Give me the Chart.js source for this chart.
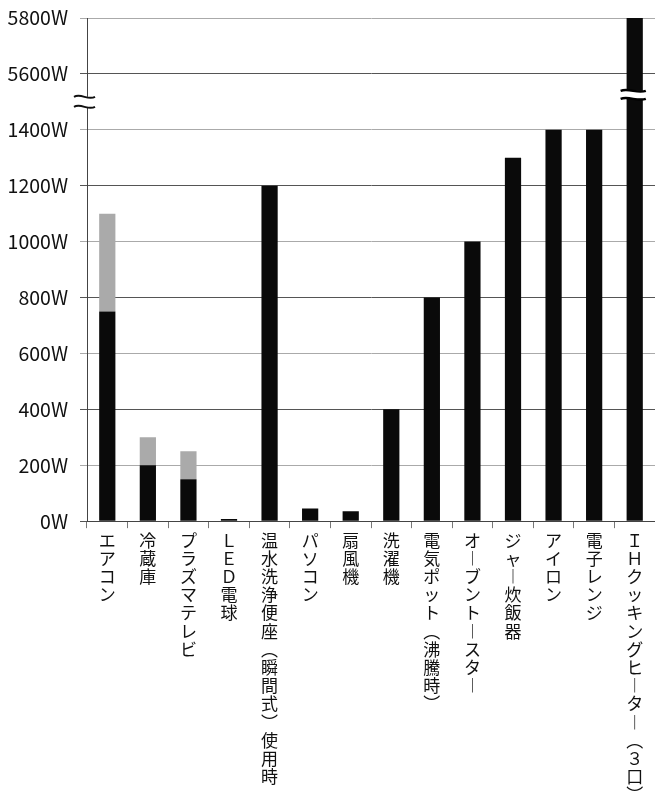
<!DOCTYPE html>
<html>
<head>
<meta charset="utf-8">
<script src="https://cdn.jsdelivr.net/npm/chart.js@4.4.0/dist/chart.umd.min.js"></script>
<style>
  html, body { margin: 0; padding: 0; background: #fff; }
  #wrap { width: 655px; height: 794px; }
</style>
</head>
<body>
<div id="wrap"><canvas id="chart"></canvas></div>
<script>
const appliances = ["エアコン", "冷蔵庫", "プラズマテレビ", "ＬＥＤ電球", "温水洗浄便座(瞬間式)使用時", "パソコン", "扇風機", "洗濯機", "電気ポット(沸騰時)", "オーブントースター", "ジャー炊飯器", "アイロン", "電子レンジ", "ＩＨクッキングヒーター(３口)"];
const baseWatts = [750, 200, 150, 8, 1200, 45, 35, 400, 800, 1000, 1300, 1400, 1400, 5800];
const extraWatts = [350, 100, 100, 0, 0, 0, 0, 0, 0, 0, 0, 0, 0, 0];

// axis is cut between these two values
const breakFrom = 1500;
const breakTo = 5500;
const gap = breakTo - breakFrom;

const toAxis = v => v <= breakFrom ? v : v - gap;
const fromAxis = v => v <= breakFrom ? v : v + gap;

// vertical writing: one character per line
const verticalForms = { "ー": "︱", "(": "︵", ")": "︶" };
const verticalLabel = s => Array.from(s).map(c => verticalForms[c] || c);

function wave(ctx, x1, x2, y, amp) {
    const w = x2 - x1;
    ctx.beginPath();
    ctx.moveTo(x1, y);
    ctx.bezierCurveTo(x1 + w / 3, y - amp, x1 + 2 * w / 3, y + amp, x2, y);
    ctx.stroke();
}

const breakMarks = {
    id: "breakMarks",
    afterDraw(chart) {
        const ctx = chart.ctx;
        const y = chart.scales.y;
        const axisX = chart.chartArea.left;
        ctx.save();

        // break on the y axis
        const ay = y.getPixelForValue(breakFrom);
        ctx.fillStyle = "#fff";
        ctx.fillRect(axisX - 3, ay - 5, 6, 10);
        ctx.strokeStyle = "#111";
        ctx.lineWidth = 2;
        wave(ctx, axisX - 13, axisX + 8, ay - 5, 4);
        wave(ctx, axisX - 13, axisX + 8, ay + 5, 4);

        // break on the tallest bar
        const bar = chart.getDatasetMeta(0).data[appliances.length - 1];
        const by = y.getPixelForValue(breakFrom + 25);
        const half = bar.width / 2;
        ctx.fillStyle = "#fff";
        ctx.fillRect(bar.x - half - 2, by - 4, bar.width + 4, 8);
        ctx.strokeStyle = "#000";
        ctx.lineWidth = 2.5;
        wave(ctx, bar.x - half - 6, bar.x + half + 3, by - 4, 3);
        wave(ctx, bar.x - half - 6, bar.x + half + 3, by + 4, 3);
        ctx.restore();
    }
};

new Chart(document.getElementById("chart"), {
    type: "bar",
    data: {
        labels: appliances.map(verticalLabel),
        datasets: [{
            data: baseWatts.map(toAxis),
            backgroundColor: "#0a0a0a",
            barPercentage: 0.4,
            categoryPercentage: 1
        }, {
            data: extraWatts,
            backgroundColor: "#aaaaaa",
            barPercentage: 0.4,
            categoryPercentage: 1
        }]
    },
    options: {
        responsive: true,
        maintainAspectRatio: false,
        animation: false,
        layout: { padding: { top: 18, right: 0, left: 0, bottom: 0 } },
        plugins: { legend: { display: false }, tooltip: { enabled: false } },
        scales: {
            x: {
                stacked: true,
                grid: { drawOnChartArea: false, tickLength: 7, color: "#777" },
                border: { color: "#444" },
                ticks: {
                    color: "#111",
                    padding: 3,
                    maxRotation: 0,
                    autoSkip: false,
                    font: { family: "'Noto Sans CJK JP'", size: 17, lineHeight: 1.07 }
                },
                afterFit: scale => { scale.height -= 13; }
            },
            y: {
                stacked: true,
                min: 0,
                max: toAxis(5800),
                grid: {
                    tickLength: 7,
                    color: ctx => (ctx.tick && ctx.tick.value % 400 === 0) ? "#555" : "#aaa"
                },
                border: { color: "#444" },
                ticks: {
                    stepSize: 200,
                    color: "#111",
                    padding: 12,
                    font: { family: "'Noto Sans CJK JP'", size: 19.5 },
                    callback: v => fromAxis(v) + "W"
                },
                afterFit: scale => {
                    scale.width = 87;
                    scale.paddingTop = 0;
                    scale.paddingBottom = 0;
                }
            }
        }
    },
    plugins: [breakMarks]
});
</script>
</body>
</html>
